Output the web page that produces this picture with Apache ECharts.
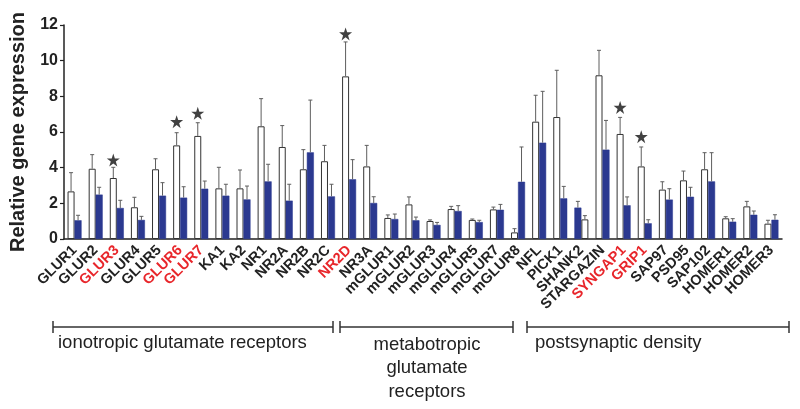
<!DOCTYPE html>
<html><head><meta charset="utf-8">
<script src="https://cdn.jsdelivr.net/npm/echarts@6/dist/echarts.min.js"></script>
<style>html,body{margin:0;padding:0;background:#fff}#c{width:800px;height:409px}</style>
</head><body><div id="c"></div><script>
const categories = ['GLUR1','GLUR2','GLUR3','GLUR4','GLUR5','GLUR6','GLUR7','KA1','KA2','NR1','NR2A','NR2B','NR2C','NR2D','NR3A','mGLUR1','mGLUR2','mGLUR3','mGLUR4','mGLUR5','mGLUR7','mGLUR8','NFL','PICK1','SHANK2','STARGAZIN','SYNGAP1','GRIP1','SAP97','PSD95','SAP102','HOMER1','HOMER2','HOMER3'];
const whiteMean = [2.67,3.94,3.42,1.78,3.91,5.25,5.78,2.84,2.84,6.32,5.16,3.91,4.36,9.12,4.07,1.18,1.94,1.01,1.68,1.07,1.66,0.37,6.58,6.84,1.10,9.18,5.89,4.07,2.77,3.29,3.91,1.16,1.83,0.86];
const whiteErr  = [3.72,4.73,4.02,2.34,4.50,5.96,6.52,4.02,3.87,7.87,6.36,5.01,5.25,11.05,5.25,1.35,2.36,1.07,1.83,1.12,1.79,0.58,8.06,9.46,1.31,10.58,6.82,5.16,3.21,3.81,4.84,1.25,2.11,1.05];
const blueMean  = [1.05,2.49,1.74,1.07,2.43,2.32,2.82,2.43,2.22,3.23,2.15,4.86,2.39,3.35,2.02,1.12,1.05,0.79,1.57,0.95,1.64,3.21,5.40,2.28,1.76,5.01,1.89,0.88,2.21,2.37,3.23,0.97,1.36,1.08];
const blueErr   = [1.33,2.90,2.17,1.27,3.16,2.93,3.25,3.07,2.97,4.19,3.07,7.79,3.07,4.45,2.37,1.40,1.23,0.93,1.87,1.05,1.94,5.16,8.28,2.95,2.11,6.65,2.36,1.08,2.82,2.90,4.84,1.14,1.57,1.36];
const redLabels = ['GLUR3','GLUR6','GLUR7','NR2D','SYNGAP1','GRIP1'];
const swappedCats = ['SHANK2'];
const starCats = ['GLUR3','GLUR6','GLUR7','NR2D','SYNGAP1','GRIP1'];
const starY = [4.43,6.58,7.05,11.5,7.38,5.74];
const yMin = 0, yMax = 12, yStep = 2;

const BAR_W = 7;
const WHITE = {color:'#ffffff', borderColor:'#333333', borderWidth:1};
const BLUE = {color:'#2b3990', borderColor:'#2b3990', borderWidth:0.5};

const leftBars = [], rightBars = [], errData = [];
categories.forEach((c, i) => {
  const sw = swappedCats.includes(c);
  const L = sw ? {v: blueMean[i], e: blueErr[i], s: BLUE} : {v: whiteMean[i], e: whiteErr[i], s: WHITE};
  const R = sw ? {v: whiteMean[i], e: whiteErr[i], s: WHITE} : {v: blueMean[i], e: blueErr[i], s: BLUE};
  leftBars.push({value: L.v, itemStyle: L.s});
  rightBars.push({value: R.v, itemStyle: R.s});
  errData.push([c, L.v, L.e, 0]);
  errData.push([c, R.v, R.e, 1]);
});
const starData = starCats.map((c, k) => [c, starY[k]]);

const STAR = 'path://M50,0 L61.8,35.3 L99,35.3 L68.9,57.2 L80.4,92.7 L50,70.8 L19.6,92.7 L31.1,57.2 L1,35.3 L38.2,35.3 Z';
const FONT = '"Liberation Sans", Arial, Helvetica, sans-serif';

const chart = echarts.init(document.getElementById('c'), null, {renderer:'canvas'});
chart.setOption({
  animation: false,
  backgroundColor: '#fff',
  grid: {left: 63, right: 18, top: 25, bottom: 170, containLabel: false},
  xAxis: {
    type: 'category', data: categories,
    axisLine: {lineStyle: {color: '#222', width: 1.5}},
    axisTick: {show: false},
    axisLabel: {
      rotate: 45, interval: 0, margin: 9,
      formatter: v => redLabels.includes(v) ? '{r|' + v + '}' : '{b|' + v + '}',
      rich: {
        r: {color: '#e8262b', fontWeight: 'bold', fontSize: 14.5, fontFamily: FONT},
        b: {color: '#222', fontWeight: 'bold', fontSize: 14.5, fontFamily: FONT}
      }
    }
  },
  yAxis: {
    type: 'value', min: yMin, max: yMax, interval: yStep,
    name: 'Relative gene expression', nameLocation: 'middle', nameGap: 36,
    nameTextStyle: {fontSize: 20, fontWeight: 'bold', color: '#222', fontFamily: FONT},
    axisLine: {show: true, lineStyle: {color: '#222', width: 1.5}},
    axisTick: {show: true, length: 4, lineStyle: {color: '#222', width: 1.2}},
    axisLabel: {fontSize: 16, fontWeight: 'bold', color: '#222', margin: 6, fontFamily: FONT},
    splitLine: {show: false}
  },
  series: [
    {type: 'bar', data: leftBars, barWidth: BAR_W, barGap: '0%', z: 2},
    {type: 'bar', data: rightBars, barWidth: BAR_W, barGap: '0%', z: 2},
    {
      type: 'custom', data: errData, encode: {x: 0, y: [1, 2]}, z: 3,
      renderItem(params, api) {
        const i = api.value(0);
        const p0 = api.coord([i, api.value(1)]);
        const p1 = api.coord([i, api.value(2)]);
        const x = p0[0] + (api.value(3) ? 1 : -1) * BAR_W / 2;
        const st = {stroke: '#5e5e5e', lineWidth: 1};
        return {type: 'group', children: [
          {type: 'line', shape: {x1: x, y1: p0[1], x2: x, y2: p1[1]}, style: st},
          {type: 'line', shape: {x1: x - 2, y1: p1[1], x2: x + 2, y2: p1[1]}, style: st}
        ]};
      }
    },
    {
      type: 'scatter', data: starData, symbol: STAR, symbolSize: 13,
      symbolOffset: [-BAR_W / 2, 0], itemStyle: {color: '#111'}, z: 4
    }
  ],
  graphic: [
    {type: 'line', shape: {x1: 53, y1: 327, x2: 333, y2: 327}, style: {stroke: '#333', lineWidth: 1.5}},
    {type: 'line', shape: {x1: 53, y1: 321, x2: 53, y2: 333}, style: {stroke: '#333', lineWidth: 1.5}},
    {type: 'line', shape: {x1: 333, y1: 321, x2: 333, y2: 333}, style: {stroke: '#333', lineWidth: 1.5}},
    {type: 'line', shape: {x1: 340, y1: 327, x2: 513, y2: 327}, style: {stroke: '#333', lineWidth: 1.5}},
    {type: 'line', shape: {x1: 340, y1: 321, x2: 340, y2: 333}, style: {stroke: '#333', lineWidth: 1.5}},
    {type: 'line', shape: {x1: 513, y1: 321, x2: 513, y2: 333}, style: {stroke: '#333', lineWidth: 1.5}},
    {type: 'line', shape: {x1: 527, y1: 327, x2: 789, y2: 327}, style: {stroke: '#333', lineWidth: 1.5}},
    {type: 'line', shape: {x1: 527, y1: 321, x2: 527, y2: 333}, style: {stroke: '#333', lineWidth: 1.5}},
    {type: 'line', shape: {x1: 789, y1: 321, x2: 789, y2: 333}, style: {stroke: '#333', lineWidth: 1.5}},
    {type: 'text', left: 58, top: 333, style: {text: 'ionotropic glutamate receptors', fontSize: 18.5, fill: '#222', fontFamily: FONT}},
    {type: 'text', x: 427, y: 333, style: {text: 'metabotropic\nglutamate\nreceptors', fontSize: 18.5, lineHeight: 23.5, fill: '#222', align: 'center', verticalAlign: 'top', fontFamily: FONT}},
    {type: 'text', left: 535, top: 333, style: {text: 'postsynaptic density', fontSize: 18.5, fill: '#222', fontFamily: FONT}}
  ]
});
</script></body></html>
